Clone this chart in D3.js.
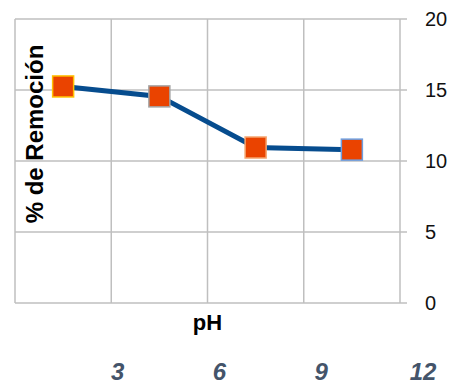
<!DOCTYPE html>
<html>
<head>
<meta charset="utf-8">
<script src="https://cdn.jsdelivr.net/npm/d3@7"></script>
<style>
  body { margin: 0; background: #fff; }
  svg { display: block; font-family: "Liberation Sans", Arial, sans-serif; }
</style>
</head>
<body>
<div id="chart"></div>
<script>
// data
const phValues = [1.5, 4.5, 7.5, 10.5];
const removal = [15.25, 14.55, 10.95, 10.8];
const markerStrokes = ["#FFC000", "#A5A5A5", "#F4A46E", "#6F9FE0"];
const yTicks = [0, 5, 10, 15, 20];
const gridX = [0, 3, 6, 9, 12];
const bottomLabels = [3, 6, 9, 12];

const width = 454, height = 385;
const plot = { left: 15, right: 400, top: 19, bottom: 303 };

const svg = d3.select("#chart").append("svg")
    .attr("width", width)
    .attr("height", height);

// scales
const x = d3.scaleLinear().domain([0, 12]).range([plot.left, plot.right]);
const y = d3.scaleLinear().domain([0, 20]).range([plot.bottom, plot.top]);
// the lower label row sits on its own, slightly wider spacing
const xLab = d3.scaleLinear().domain([0, 12]).range([16, 423]);

// grid - horizontal lines (run a bit past the right edge like tick marks)
svg.append("g")
    .selectAll("line")
    .data(yTicks)
    .join("line")
    .attr("x1", plot.left)
    .attr("x2", plot.right + 7)
    .attr("y1", d => y(d))
    .attr("y2", d => y(d))
    .attr("stroke", "#BFBFBF")
    .attr("stroke-width", 1.5);

// grid - vertical lines
svg.append("g")
    .selectAll("line")
    .data(gridX)
    .join("line")
    .attr("x1", d => x(d))
    .attr("x2", d => x(d))
    .attr("y1", plot.top)
    .attr("y2", plot.bottom)
    .attr("stroke", "#BFBFBF")
    .attr("stroke-width", 1.5);

// y tick labels on the right
svg.append("g")
    .selectAll("text")
    .data(yTicks)
    .join("text")
    .attr("x", 425)
    .attr("y", d => y(d))
    .attr("dy", "0.36em")
    .style("font-size", "20px")
    .style("fill", "#111")
    .text(d => d);

// y axis title (sits over the plot)
svg.append("text")
    .attr("transform", "translate(43,134) rotate(-90)")
    .attr("text-anchor", "middle")
    .style("font-size", "24px")
    .style("font-weight", "bold")
    .style("fill", "#000")
    .text("% de Remoción");

// x axis title
svg.append("text")
    .attr("x", x(6))
    .attr("y", 330)
    .attr("text-anchor", "middle")
    .style("font-size", "22px")
    .style("font-weight", "bold")
    .style("fill", "#000")
    .text("pH");

// bottom label row
svg.append("g")
    .selectAll("text")
    .data(bottomLabels)
    .join("text")
    .attr("x", d => xLab(d))
    .attr("y", 380)
    .attr("text-anchor", "middle")
    .style("font-size", "24px")
    .style("font-weight", "bold")
    .style("font-style", "italic")
    .style("fill", "#44546A")
    .text(d => d);

// line
const pts = phValues.map((p, i) => ({ p, v: removal[i], s: markerStrokes[i] }));
svg.append("path")
    .datum(pts)
    .attr("fill", "none")
    .attr("stroke", "#064C8E")
    .attr("stroke-width", 5)
    .attr("d", d3.line().x(d => x(d.p)).y(d => y(d.v)));

// square markers
const size = 21;
svg.append("g")
    .selectAll("rect")
    .data(pts)
    .join("rect")
    .attr("x", d => x(d.p) - size / 2)
    .attr("y", d => y(d.v) - size / 2)
    .attr("width", size)
    .attr("height", size)
    .attr("fill", "#EA4300")
    .attr("stroke", d => d.s)
    .attr("stroke-width", 1.5);
</script>
</body>
</html>
